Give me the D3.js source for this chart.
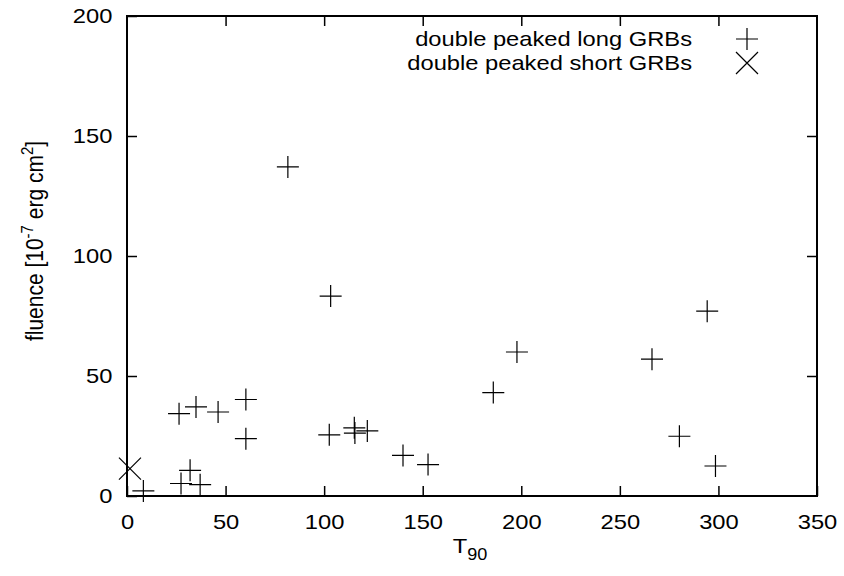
<!DOCTYPE html>
<html>
<head>
<meta charset="utf-8">
<script src="https://cdn.jsdelivr.net/npm/d3@7"></script>
<style>
  body { margin: 0; background: #fff; }
  text { font-family: "Liberation Sans", Arial, sans-serif; fill: #000; }
</style>
</head>
<body>
<div id="chart"></div>
<script>
// Data
const longT90 = [8.3, 27.4, 32.0, 37.1, 26.4, 35.0, 46.2, 60.3, 60.3, 81.6, 103.3, 102.6,
                 115.3, 115.6, 121.9, 140.0, 152.7, 185.8, 197.8, 266.3, 280.2, 294.3, 298.5];
const longFluence = [2.1, 5.2, 10.7, 4.7, 34.3, 37.1, 35.0, 40.2, 23.9, 137.1, 83.3, 25.5,
                     28.4, 26.2, 27.1, 16.9, 13.1, 43.1, 60.0, 57.0, 24.9, 77.0, 12.5];
const shortT90 = [1.5];
const shortFluence = [11.4];
const xTicks = [0, 50, 100, 150, 200, 250, 300, 350];
const yTicks = [0, 50, 100, 150, 200];
const legendLabels = ["double peaked long GRBs", "double peaked short GRBs"];

// Set dimensions and margins for the graph
const margin = {top: 16, right: 27, bottom: 80, left: 127},
    width = 844 - margin.left - margin.right,
    height = 576 - margin.top - margin.bottom;

const svg = d3.select("#chart")
  .append("svg")
    .attr("width", width + margin.left + margin.right)
    .attr("height", height + margin.top + margin.bottom)
  .append("g")
    .attr("transform", `translate(${margin.left},${margin.top})`);

const x = d3.scaleLinear().domain([0, 350]).range([0, width]);
const y = d3.scaleLinear().domain([0, 200]).range([height, 0]);

const tickLen = 10;
const fontSize = 21;
const stretch = "scale(1.13,1)";   // the original text is a bit wider than tall

// Axes (ticks drawn inward, mirrored on top and right)
svg.append("g")
    .attr("transform", `translate(0,${height})`)
    .call(d3.axisBottom(x).tickValues(xTicks).tickSize(-tickLen).tickPadding(tickLen + 8))
    .call(g => g.selectAll("text").style("font-size", fontSize + "px").attr("transform", stretch));
svg.append("g")
    .call(d3.axisTop(x).tickValues(xTicks.slice(1, -1)).tickSize(-tickLen).tickFormat(""));
svg.append("g")
    .call(d3.axisLeft(y).tickValues(yTicks).tickSize(-tickLen).tickPadding(13))
    .call(g => g.selectAll("text").style("font-size", fontSize + "px").attr("transform", stretch));
svg.append("g")
    .attr("transform", `translate(${width},0)`)
    .call(d3.axisRight(y).tickValues(yTicks.slice(1, -1)).tickSize(-tickLen).tickFormat(""));

svg.selectAll(".domain").remove();
svg.selectAll(".tick line").attr("stroke", "#000").attr("stroke-width", 1.5);
svg.selectAll(".tick text").attr("font-family", null);

// Frame
svg.append("rect")
    .attr("width", width)
    .attr("height", height)
    .attr("fill", "none")
    .attr("stroke", "#000")
    .attr("stroke-width", 2);

// Axis labels
const xl = svg.append("g")
    .attr("transform", `translate(${width / 2 - 2},${height + 57}) ${stretch}`)
  .append("text")
    .attr("text-anchor", "middle")
    .style("font-size", fontSize + "px");
xl.append("tspan").text("T");
xl.append("tspan").attr("dy", 7).style("font-size", "16px").text("90");

const yl = svg.append("g")
    .attr("transform", `translate(-84,${height / 2 - 15}) rotate(-90) scale(1,1.13)`)
  .append("text")
    .attr("text-anchor", "middle")
    .style("font-size", fontSize + "px");
yl.append("tspan").text("fluence [10");
yl.append("tspan").attr("dy", -9).style("font-size", "15px").text("-7");
yl.append("tspan").attr("dy", 9).text(" erg cm");
yl.append("tspan").attr("dy", -9).style("font-size", "15px").text("2");
yl.append("tspan").attr("dy", 9).text("]");

// Markers
const s = 11;
const plus = (px, py) => `M${px - s},${py}H${px + s}M${px},${py - s}V${py + s}`;
const cross = (px, py) => `M${px - s},${py - s}L${px + s},${py + s}M${px - s},${py + s}L${px + s},${py - s}`;

svg.selectAll("path.long")
  .data(longT90.map((d, i) => [d, longFluence[i]]))
  .enter()
  .append("path")
    .attr("class", "long")
    .attr("d", d => plus(x(d[0]), y(d[1])))
    .attr("stroke", "#000")
    .attr("stroke-width", 1.2)
    .attr("fill", "none");

svg.selectAll("path.short")
  .data(shortT90.map((d, i) => [d, shortFluence[i]]))
  .enter()
  .append("path")
    .attr("class", "short")
    .attr("d", d => cross(x(d[0]), y(d[1])))
    .attr("stroke", "#000")
    .attr("stroke-width", 1.2)
    .attr("fill", "none");

// Legend
const legend = svg.selectAll("g.legend")
  .data(legendLabels)
  .enter()
  .append("g")
    .attr("class", "legend")
    .attr("transform", (d, i) => `translate(0,${23 + i * 24})`);
legend.append("g")
    .attr("transform", `translate(565,0) ${stretch}`)
  .append("text")
    .attr("dy", "0.35em")
    .attr("text-anchor", "end")
    .style("font-size", fontSize + "px")
    .text(d => d);
legend.append("path")
    .attr("d", (d, i) => i === 0 ? plus(620, 0) : cross(620, 0))
    .attr("stroke", "#000")
    .attr("stroke-width", 1.2)
    .attr("fill", "none");
</script>
</body>
</html>
